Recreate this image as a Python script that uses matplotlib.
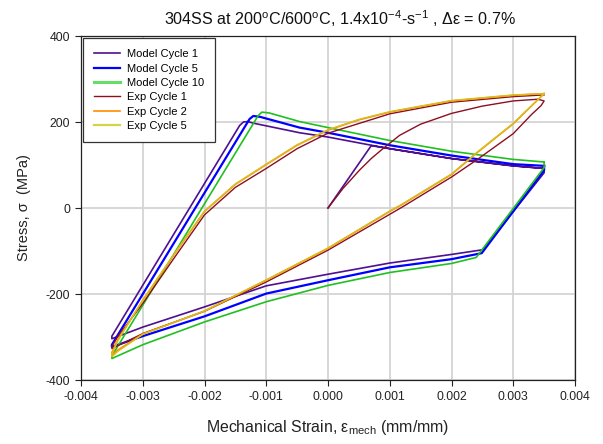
import matplotlib
matplotlib.use("Agg")
import matplotlib.pyplot as plt
import numpy as np

plt.rcParams['font.family'] = ['Liberation Sans', 'DejaVu Sans']
plt.rcParams['mathtext.fontset'] = 'custom'
plt.rcParams['mathtext.rm'] = 'Liberation Sans'
plt.rcParams['mathtext.it'] = 'Liberation Sans:italic'

# ---------------- data (strain mm/mm, stress MPa) ----------------
m1_strain = [0, 0.0007, 0.001, 0.002, 0.003, 0.0035, 0.0035, 0.00251, 0.002, 0.001, 0,
             -0.001, -0.002, -0.003, -0.0035, -0.0035, -0.00143, -0.00137, -0.0013, -0.0012,
             -0.00046, 0, 0.0007, 0.001, 0.002, 0.003, 0.0035]
m1_stress = [0, 145, 138, 115, 98, 92, 82, -97, -108, -128, -154,
             -181, -230, -277, -304, -298, 192, 200, 201, 197,
             175, 165, 146, 138, 115, 98, 92]

m5_strain = [0.0035, 0.0035, 0.00249, 0.002, 0.001, 0, -0.001, -0.002, -0.003, -0.0035,
             -0.0035, -0.00127, -0.00121, -0.0011, -0.00046, 0, 0.001, 0.002, 0.003, 0.0035]
m5_stress = [98, 88, -105, -119, -138, -168, -199, -252, -298, -323,
             -318, 207, 214, 212, 187, 175, 146, 122, 102, 98]

m10_strain = [0.0035, 0.0035, 0.0024, 0.002, 0.001, 0, -0.001, -0.002, -0.003, -0.0035,
              -0.0035, -0.00113, -0.00107, -0.00095, -0.00046, 0, 0.001, 0.002, 0.003, 0.0035]
m10_stress = [107, 94, -115, -129, -150, -180, -218, -265, -318, -350,
              -344, 215, 223, 221, 201, 187, 157, 132, 113, 107]

e1_strain = [0, 0.00024, 0.00051, 0.0007, 0.00089, 0.00116, 0.0015, 0.002, 0.0025, 0.003,
             0.0034, 0.0035, 0.00345, 0.0033, 0.003, 0.0024, 0.002, 0.0012, 0, -0.001,
             -0.002, -0.003, -0.0034, -0.0035, -0.0035, -0.0034, -0.003, -0.0025, -0.002,
             -0.0015, -0.001, -0.0005, 0, 0.001, 0.002, 0.003, 0.0035]
e1_stress = [0, 45, 88, 115, 138, 169, 195, 220, 237, 249,
             253, 249, 238, 218, 173, 111, 72, 2, -98, -172,
             -240, -292, -320, -327, -322, -298, -222, -118, -16,
             48, 92, 138, 174, 219, 246, 259, 263]

e2_strain = [0.0035, 0.003, 0.0024, 0.002, 0.0012, 0.001, 0, -0.001, -0.002, -0.003,
             -0.0034, -0.0035, -0.0035, -0.0034, -0.003, -0.0025, -0.002, -0.0015, -0.001,
             -0.0005, 0, 0.0005, 0.001, 0.002, 0.003, 0.0035]
e2_stress = [266, 196, 127, 78, 8, -8, -94, -168, -240, -293,
             -330, -342, -336, -305, -215, -110, -8, 55, 101,
             146, 181, 205, 223, 249, 262, 266]

e5_strain = [0.0035, 0.003, 0.0024, 0.002, 0.0012, 0.001, 0, -0.001, -0.002, -0.003,
             -0.0034, -0.0035, -0.0035, -0.0034, -0.003, -0.0025, -0.002, -0.0015, -0.001,
             -0.0005, 0, 0.0005, 0.001, 0.002, 0.003, 0.0035]
e5_stress = [266, 197, 128, 79, 9, -7, -93, -167, -239, -294,
             -333, -346, -340, -308, -214, -109, -7, 56, 102,
             147, 182, 206, 224, 250, 263, 266]

labels = ['Model Cycle 1', 'Model Cycle 5', 'Model Cycle 10',
          'Exp Cycle 1', 'Exp Cycle 2', 'Exp Cycle 5']
x_ticks = [-0.004, -0.003, -0.002, -0.001, 0.0, 0.001, 0.002, 0.003, 0.004]
y_ticks = [-400, -200, 0, 200, 400]

# ---------------- figure ----------------
fig = plt.figure(figsize=(6.03, 4.44), dpi=100)
ax = fig.add_axes([81/603, 1-380/444, (575-81)/603, (380-36)/444])

series = [(m1_strain, m1_stress, '#4E1090', 1.2),
          (m5_strain, m5_stress, '#0000FF', 1.6),
          (m10_strain, m10_stress, '#20C020', 1.2),
          (e1_strain, e1_stress, '#8B1020', 1.0),
          (e2_strain, e2_stress, '#FF8C00', 1.2),
          (e5_strain, e5_stress, '#D4C020', 1.0)]
for (xs, ys, c, lw), lab in zip(series, labels):
    ax.plot(xs, ys, color=c, lw=lw, label=lab, solid_joinstyle='round')

ax.set_xlim(-0.004, 0.004)
ax.set_ylim(-400, 400)
ax.set_xticks(x_ticks)
ax.set_xticklabels(['%.3f' % v for v in x_ticks])
ax.set_yticks(y_ticks)
ax.set_yticklabels([str(v) for v in y_ticks])
ax.tick_params(direction='out', length=4, width=0.8, labelsize=8.8, colors='#222222',
               top=False, right=False, pad=4)
ax.grid(True, color='#D4D4D4', lw=1.3)
ax.set_axisbelow(True)
for s in ax.spines.values():
    s.set_color('#222222')
    s.set_linewidth(0.9)

ax.set_xlabel(r'Mechanical Strain, ε$_{\mathrm{mech}}$ (mm/mm)', fontsize=11.4, labelpad=11, color='#222222')
ax.set_ylabel('Stress, σ  (MPa)', fontsize=10.5, labelpad=10, color='#222222')
ax.set_title(r'304SS at 200$^{\mathrm{o}}$C/600$^{\mathrm{o}}$C, 1.4x10$^{\mathrm{-4}}$-s$^{\mathrm{-1}}$ , Δε = 0.7%',
             fontsize=11.6, pad=8, color='#111111', x=0.525)

leg = ax.legend(loc='upper left', fontsize=8, frameon=True, fancybox=False,
                edgecolor='#333333', framealpha=1, borderaxespad=0.2,
                handlelength=2.3, handletextpad=0.6, labelspacing=0.39, borderpad=1.0)
leg.get_frame().set_linewidth(0.9)
lines = leg.get_lines()
lines[2].set_linewidth(2.2)
lines[2].set_color('#66DD66')
lines[5].set_color('#D4D444')
lines[5].set_linewidth(1.6)

fig.savefig('out.png', dpi=100)
